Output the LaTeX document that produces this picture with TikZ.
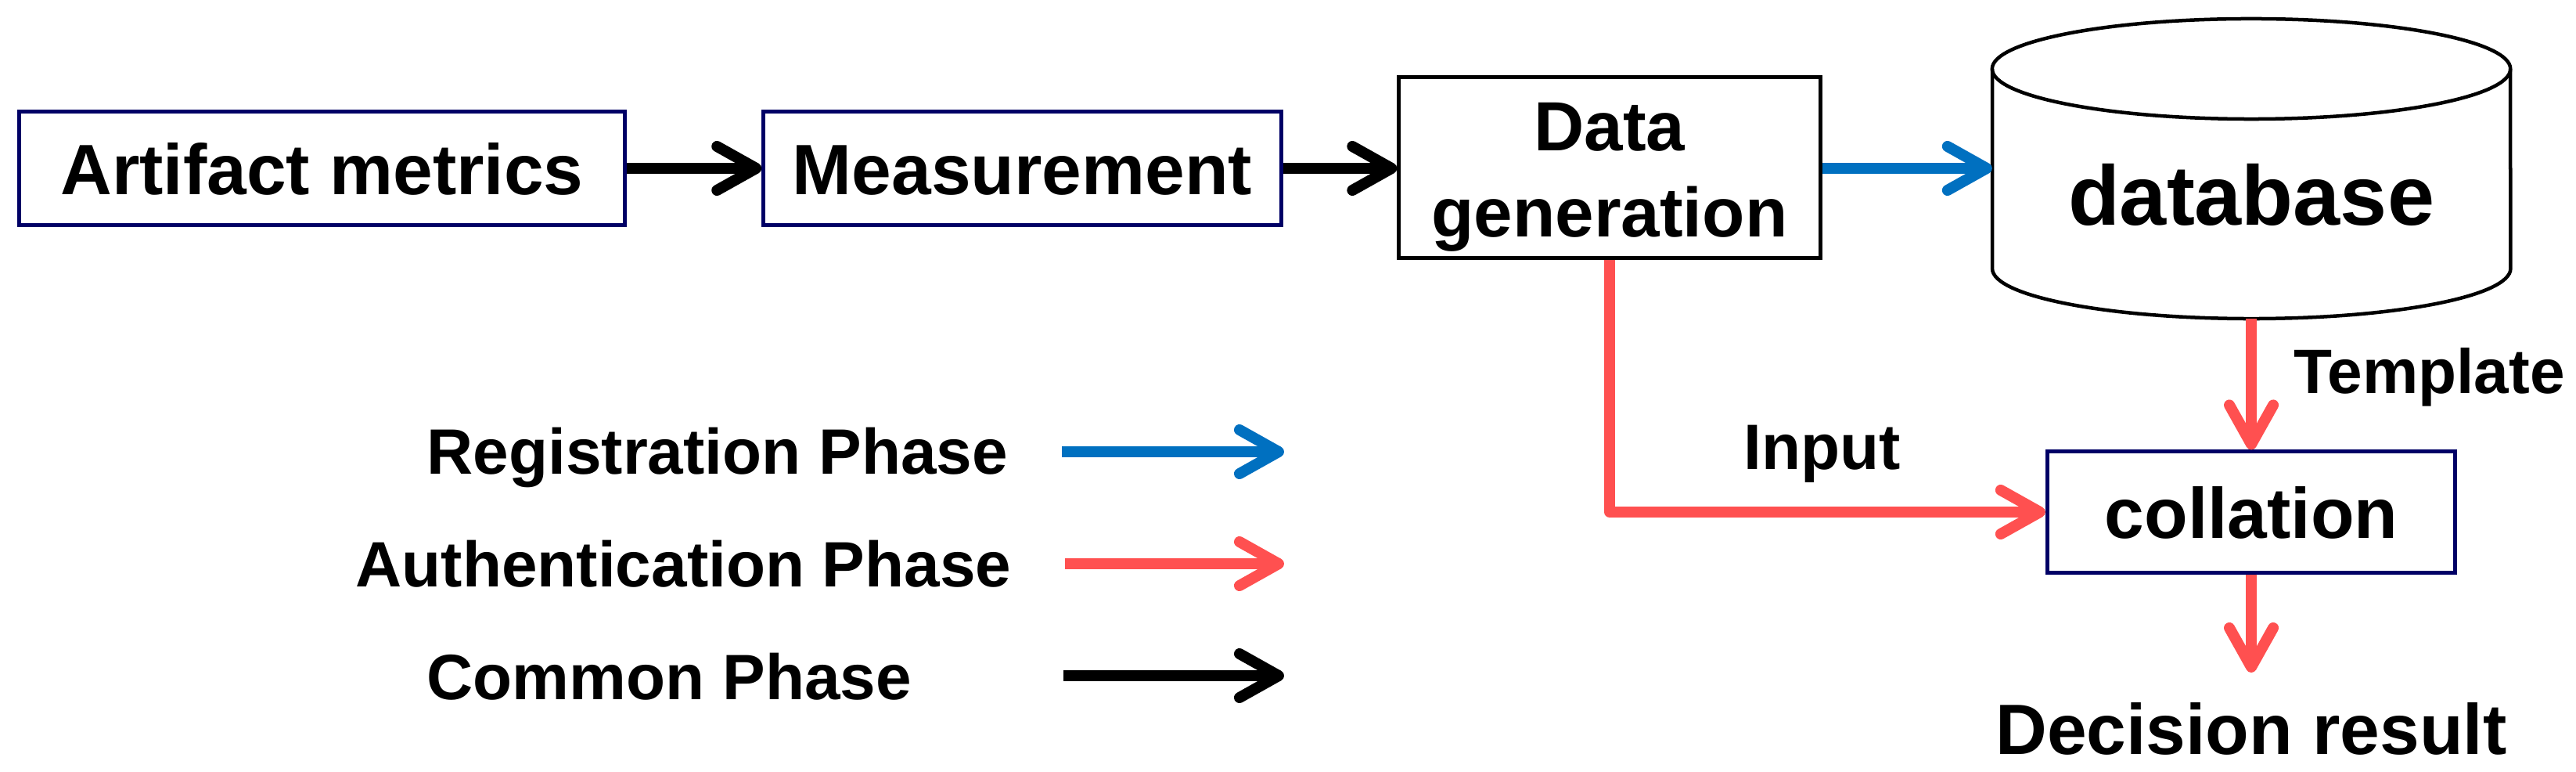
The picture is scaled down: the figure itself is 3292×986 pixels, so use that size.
\documentclass[tikz,border=0pt]{standalone}
\usepackage{fontspec}
\setmainfont{Liberation Sans}
\usetikzlibrary{arrows.meta}
\definecolor{regblue}{RGB}{0,112,192}
\definecolor{authred}{RGB}{255,80,80}
\definecolor{boxnavy}{RGB}{0,0,102}
\begin{document}
\begin{tikzpicture}[x=0.01cm,y=-0.01cm,
  box/.style={draw=boxnavy,line width=0.05cm,inner sep=0pt,fill=white,text height=0.66cm,text depth=0pt},
  conn/.style={line width=0.14cm,line join=round,-{Straight Barb[length=0.5cm,width=0.56cm,round]}},
  fbig/.style={font=\bfseries\fontsize{25.9pt}{31pt}\selectfont},
  fdg/.style={font=\bfseries\fontsize{25.3pt}{31pt}\selectfont},
  fdb/.style={font=\bfseries\fontsize{30.7pt}{36pt}\selectfont},
  flg/.style={font=\bfseries\fontsize{23.3pt}{28pt}\selectfont},
  ftp/.style={font=\bfseries\fontsize{22.8pt}{28pt}\selectfont},
  cyl/.style={draw=black,line width=0.045cm},
  txt/.style={inner sep=0pt}
]
\useasboundingbox (0,0) rectangle (3292,986);

% boxes
\node (am) [box, fbig, minimum width=7.73cm, minimum height=1.44cm] at (411.5,215) {Artifact metrics};
\node (ms) [box, fbig, minimum width=6.61cm, minimum height=1.44cm] at (1306.5,215) {Measurement};
\node (dg) [box, draw=black, minimum width=5.38cm, minimum height=2.30cm] at (2057,214) {};
\node (dg1) [txt, fdg, anchor=base] at (2057,193) {Data};
\node (dg2) [txt, fdg, anchor=base] at (2057,303) {generation};
\node (coll) [box, fbig, minimum width=5.21cm, minimum height=1.54cm] at (2877,654) {collation};

% database cylinder
\draw[cyl] (2546,88) -- (2546,343) arc[start angle=180,end angle=360,x radius=3.31cm,y radius=0.64cm] -- (3208,88);
\draw[cyl] (2877,88) ellipse [x radius=3.31cm, y radius=0.64cm];
\node (db) [minimum width=6.62cm, minimum height=3.84cm, inner sep=0pt, outer sep=0pt] at (2877,215) {};
\node (dbt) [txt, fdb, anchor=base] at (2877,288) {database};

% labels
\node (tpl) [txt, ftp, anchor=base west] at (2931,503) {Template};
\node (inp) [txt, flg, anchor=base west] at (2228,600) {Input};
\node (dec) [txt, fbig, anchor=base] at (2877,963) {Decision result};
\coordinate (dtip) at (2877,859);

% connectors
\draw[conn] (am) -- (ms);
\draw[conn] (ms) -- (dg.west |- ms.east);
\draw[conn, regblue] (dg.east |- 0,215) -- (db.west);
\draw[conn, authred] (dg.south) |- (coll.west);
\draw[conn, authred] (db.south) -- (coll.north);
\draw[conn, authred] (coll.south) -- (dtip);

% legend
\node (lreg) [txt, flg, anchor=base west] at (545,606) {Registration Phase};
\node (lauth) [txt, flg, anchor=base west] at (454,750) {Authentication Phase};
\node (lcom) [txt, flg, anchor=base west] at (545,893) {Common Phase};
\coordinate (lrs) at (1357,577); \coordinate (lre) at (1641,577);
\coordinate (las) at (1361,720); \coordinate (lae) at (1641,720);
\coordinate (lcs) at (1359,863); \coordinate (lce) at (1641,863);
\draw[conn, regblue] (lrs) -- (lre);
\draw[conn, authred] (las) -- (lae);
\draw[conn] (lcs) -- (lce);
\end{tikzpicture}
\end{document}
